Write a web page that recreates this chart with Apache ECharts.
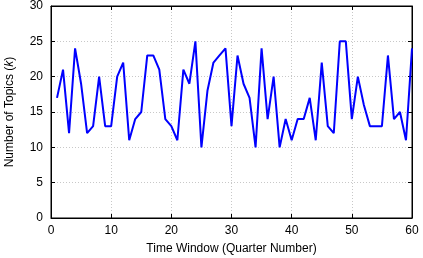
<!DOCTYPE html>
<html><head><meta charset="utf-8">
<script src="https://cdn.jsdelivr.net/npm/echarts@6/dist/echarts.min.js"></script>
<style>html,body{margin:0;padding:0;background:#fff}#c{width:423px;height:258px}</style>
</head><body><div id="c"></div>
<script>
const quarters = [];
for (let i = 1; i <= 60; i++) quarters.push(i);
const topics = [17,21,12,24,19,12,13,20,13,13,20,22,11,14,15,23,23,21,14,13,
                11,21,19,25,10,18,22,23,24,13,23,19,17,10,24,14,20,10,14,11,
                14,14,17,11,22,13,12,25,25,14,20,16,13,13,13,23,14,15,11,24];
const xTicks = [0,10,20,30,40,50,60];
const yTicks = [0,5,10,15,20,25,30];
const font = 'Liberation Sans, Arial, sans-serif';
const chart = echarts.init(document.getElementById('c'), null, {renderer:'canvas'});
const axisLine = {show:true, onZero:false, lineStyle:{color:'#000', width:1}};
const split = {show:true, lineStyle:{color:'#c8c8c8', type:[1,2], width:1}};
const tick = {show:true, inside:true, length:4, lineStyle:{color:'#000'}};
chart.setOption({
  animation:false,
  grid:{left:51, right:11, top:6, bottom:40, show:true, borderColor:'#000', borderWidth:1,
        outerBoundsMode:'none', containLabel:false},
  xAxis:[{
    type:'value', min:0, max:60, interval:10, position:'bottom',
    name:'Time Window (Quarter Number)', nameLocation:'middle', nameGap:25,
    nameTextStyle:{color:'#000', fontSize:12, fontFamily:font},
    axisLine, axisTick:tick,
    axisLabel:{color:'#000', fontSize:12, fontFamily:font, margin:7},
    splitLine:split
  },{
    type:'value', min:0, max:60, interval:10, position:'top',
    axisLine, axisTick:tick,
    axisLabel:{show:false}, splitLine:{show:false}
  }],
  yAxis:[{
    type:'value', min:0, max:30, interval:5, position:'left',
    name:'Number of Topics ({i|k})', nameLocation:'middle', nameGap:35, nameRotate:90,
    nameTextStyle:{color:'#000', fontSize:12, fontFamily:font,
      rich:{i:{fontStyle:'italic', fontSize:12, fontFamily:font, color:'#000'}}},
    axisLine, axisTick:tick,
    axisLabel:{color:'#000', fontSize:12, fontFamily:font, margin:8},
    splitLine:split
  },{
    type:'value', min:0, max:30, interval:5, position:'right',
    axisLine, axisTick:tick,
    axisLabel:{show:false}, splitLine:{show:false}
  }],
  series:[{
    type:'line', data:quarters.map((q,i)=>[q, topics[i]]),
    showSymbol:false, symbol:'none',
    lineStyle:{color:'#0000ff', width:2}, itemStyle:{color:'#0000ff'}
  }]
});
</script></body></html>
